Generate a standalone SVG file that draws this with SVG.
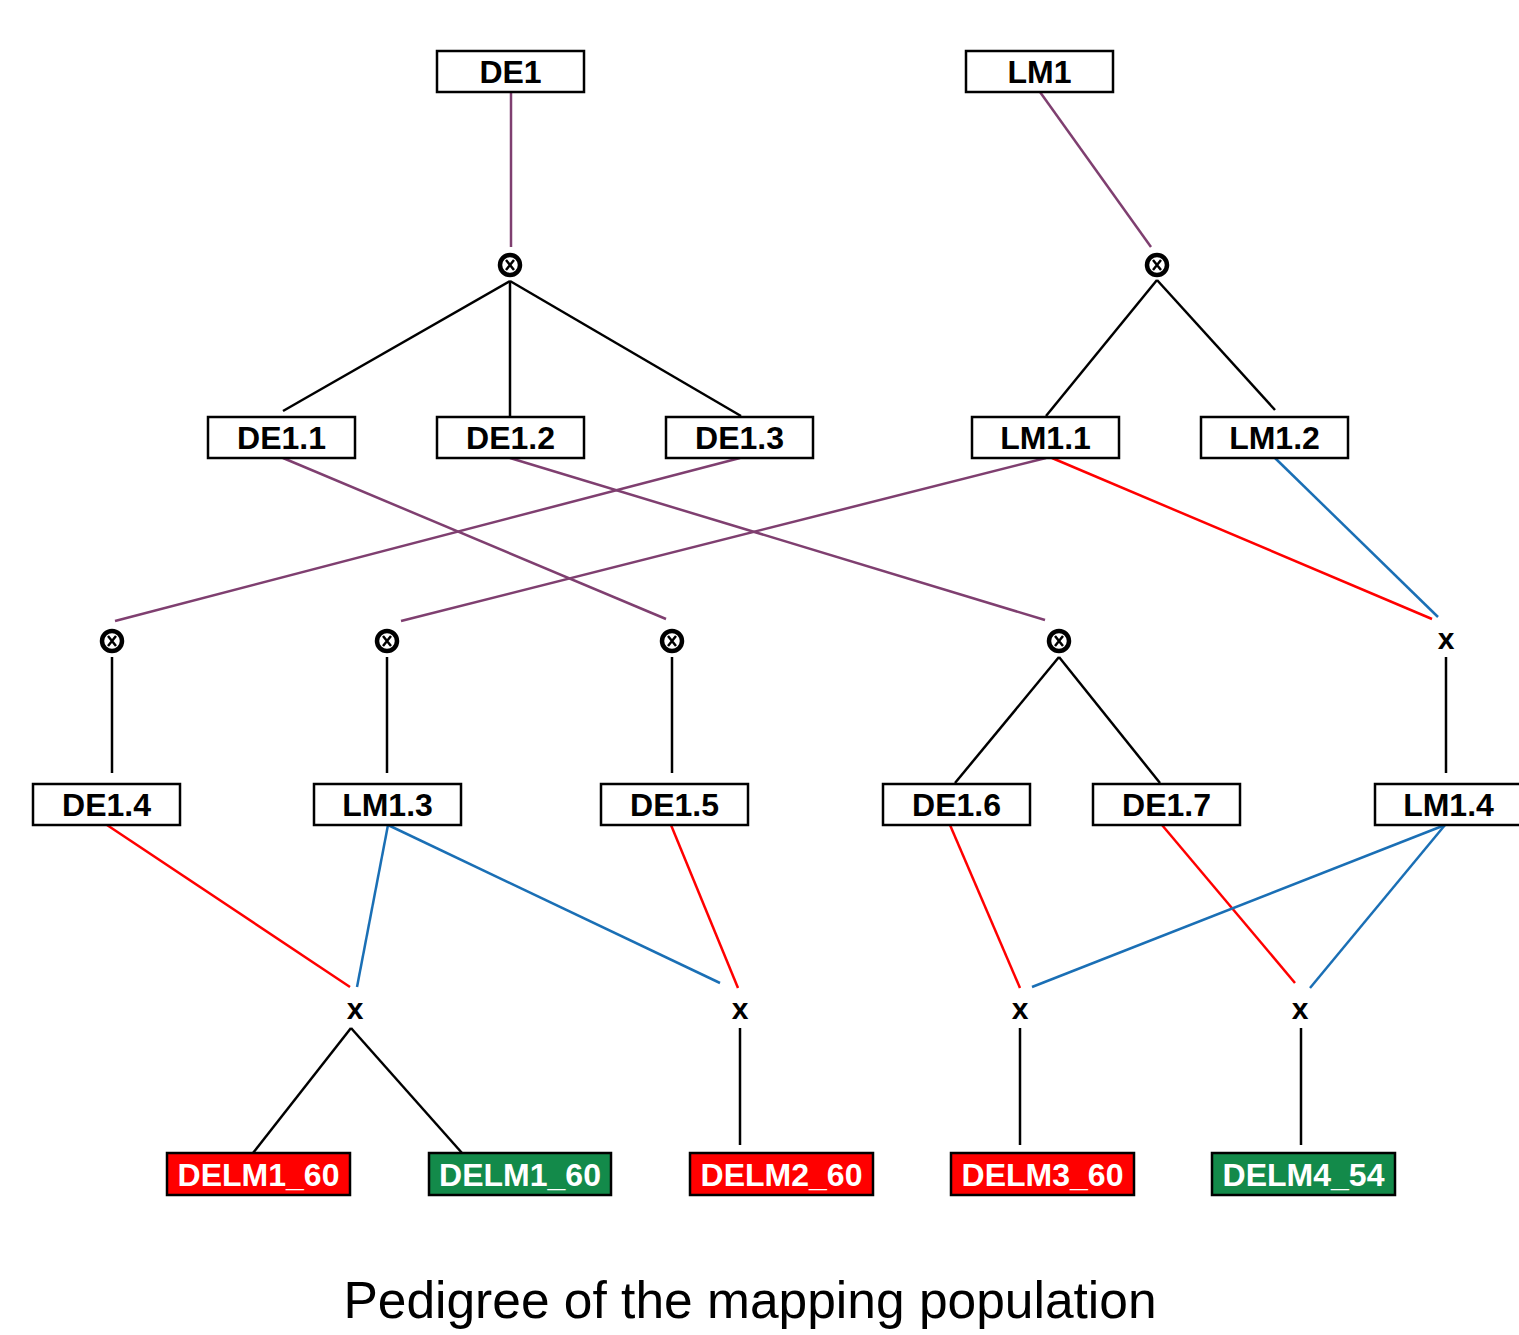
<svg xmlns="http://www.w3.org/2000/svg" width="1519" height="1335" viewBox="0 0 1519 1335">
<style>
.box{fill:#fff;stroke:#000;stroke-width:2.5}
.lbl{font-family:"Liberation Sans",Arial,sans-serif;font-weight:bold;font-size:32px;text-anchor:middle;fill:#000}
.wl{fill:#fff}
.red{fill:#ff0000;stroke:#000;stroke-width:2.5}
.grn{fill:#138a4a;stroke:#000;stroke-width:2.5}
.k{stroke:#000;stroke-width:2.5;fill:none}
.p{stroke:#7f3f70;stroke-width:2.5;fill:none}
.r{stroke:#ff0000;stroke-width:2.5;fill:none}
.b{stroke:#1a6fb5;stroke-width:2.5;fill:none}
.x{font-family:"Liberation Sans",Arial,sans-serif;font-weight:bold;font-size:30px;text-anchor:middle;fill:#000}
.title{font-family:"Liberation Sans",Arial,sans-serif;font-size:51.5px;text-anchor:middle;fill:#000}
</style>
<defs>
<g id="self">
<circle r="10" fill="#fff" stroke="#000" stroke-width="4.5"/>
<path d="M-4,-5 L4,5 M4,-5 L-4,5" stroke="#000" stroke-width="2.5"/>
</g>
</defs>
<g id="connectors">
<line class="p" x1="511" y1="92" x2="511" y2="247"/>
<line class="p" x1="1040" y1="92" x2="1151" y2="247"/>
<line class="k" x1="510" y1="281" x2="283" y2="411"/>
<line class="k" x1="510" y1="281" x2="510" y2="416"/>
<line class="k" x1="510" y1="281" x2="741" y2="416"/>
<line class="k" x1="1157" y1="280" x2="1046" y2="416"/>
<line class="k" x1="1157" y1="280" x2="1275" y2="410"/>
<line class="p" x1="740" y1="458" x2="115" y2="621"/>
<line class="p" x1="283" y1="458" x2="666" y2="619"/>
<line class="p" x1="1046" y1="458" x2="401" y2="621"/>
<line class="p" x1="510" y1="458" x2="1045" y2="620"/>
<line class="r" x1="1052" y1="458" x2="1432" y2="619"/>
<line class="b" x1="1275" y1="458" x2="1438" y2="617"/>
<line class="k" x1="112" y1="657" x2="112" y2="773"/>
<line class="k" x1="387" y1="657" x2="387" y2="773"/>
<line class="k" x1="672" y1="657" x2="672" y2="773"/>
<line class="k" x1="1059" y1="657" x2="955" y2="783"/>
<line class="k" x1="1059" y1="657" x2="1160" y2="783"/>
<line class="k" x1="1446" y1="657" x2="1446" y2="773"/>
<line class="r" x1="107" y1="825" x2="350" y2="987"/>
<line class="b" x1="388" y1="825" x2="357" y2="987"/>
<line class="b" x1="388" y1="825" x2="720" y2="983"/>
<line class="r" x1="671" y1="825" x2="738" y2="988"/>
<line class="r" x1="950" y1="825" x2="1020" y2="988"/>
<line class="r" x1="1162" y1="825" x2="1295" y2="983"/>
<line class="b" x1="1445" y1="825" x2="1032" y2="987"/>
<line class="b" x1="1445" y1="825" x2="1310" y2="988"/>
<line class="k" x1="351" y1="1028" x2="253" y2="1153"/>
<line class="k" x1="351" y1="1028" x2="462" y2="1153"/>
<line class="k" x1="740" y1="1028" x2="740" y2="1145"/>
<line class="k" x1="1020" y1="1028" x2="1020" y2="1145"/>
<line class="k" x1="1301" y1="1028" x2="1301" y2="1145"/>
</g>
<g id="n-DE1"><rect class="box" x="437" y="51" width="147" height="41"/><text class="lbl" x="510.5" y="83">DE1</text></g>
<g id="n-LM1"><rect class="box" x="966" y="51" width="147" height="41"/><text class="lbl" x="1039.5" y="83">LM1</text></g>
<g id="s1"><use href="#self" x="510" y="265"/></g>
<g id="s2"><use href="#self" x="1157" y="265"/></g>
<g id="n-DE1.1"><rect class="box" x="208" y="417" width="147" height="41"/><text class="lbl" x="281.5" y="449">DE1.1</text></g>
<g id="n-DE1.2"><rect class="box" x="437" y="417" width="147" height="41"/><text class="lbl" x="510.5" y="449">DE1.2</text></g>
<g id="n-DE1.3"><rect class="box" x="666" y="417" width="147" height="41"/><text class="lbl" x="739.5" y="449">DE1.3</text></g>
<g id="n-LM1.1"><rect class="box" x="972" y="417" width="147" height="41"/><text class="lbl" x="1045.5" y="449">LM1.1</text></g>
<g id="n-LM1.2"><rect class="box" x="1201" y="417" width="147" height="41"/><text class="lbl" x="1274.5" y="449">LM1.2</text></g>
<g id="s3"><use href="#self" x="112" y="641"/></g>
<g id="s4"><use href="#self" x="387" y="641"/></g>
<g id="s5"><use href="#self" x="672" y="641"/></g>
<g id="s6"><use href="#self" x="1059" y="641"/></g>
<g id="x1"><text class="x" x="1446" y="649">x</text></g>
<g id="n-DE1.4"><rect class="box" x="33" y="784" width="147" height="41"/><text class="lbl" x="106.5" y="816">DE1.4</text></g>
<g id="n-LM1.3"><rect class="box" x="314" y="784" width="147" height="41"/><text class="lbl" x="387.5" y="816">LM1.3</text></g>
<g id="n-DE1.5"><rect class="box" x="601" y="784" width="147" height="41"/><text class="lbl" x="674.5" y="816">DE1.5</text></g>
<g id="n-DE1.6"><rect class="box" x="883" y="784" width="147" height="41"/><text class="lbl" x="956.5" y="816">DE1.6</text></g>
<g id="n-DE1.7"><rect class="box" x="1093" y="784" width="147" height="41"/><text class="lbl" x="1166.5" y="816">DE1.7</text></g>
<g id="n-LM1.4"><rect class="box" x="1375" y="784" width="147" height="41"/><text class="lbl" x="1448.5" y="816">LM1.4</text></g>
<g id="x2"><text class="x" x="355" y="1019">x</text></g>
<g id="x3"><text class="x" x="740" y="1019">x</text></g>
<g id="x4"><text class="x" x="1020" y="1019">x</text></g>
<g id="x5"><text class="x" x="1300" y="1019">x</text></g>
<g id="n-DELM1_60a"><rect class="red" x="167" y="1153" width="183" height="42"/><text class="lbl wl" x="258.5" y="1186">DELM1_60</text></g>
<g id="n-DELM1_60b"><rect class="grn" x="429" y="1153" width="182" height="42"/><text class="lbl wl" x="520" y="1186">DELM1_60</text></g>
<g id="n-DELM2_60"><rect class="red" x="690" y="1153" width="183" height="42"/><text class="lbl wl" x="781.5" y="1186">DELM2_60</text></g>
<g id="n-DELM3_60"><rect class="red" x="951" y="1153" width="183" height="42"/><text class="lbl wl" x="1042.5" y="1186">DELM3_60</text></g>
<g id="n-DELM4_54"><rect class="grn" x="1212" y="1153" width="183" height="42"/><text class="lbl wl" x="1303.5" y="1186">DELM4_54</text></g>
<text class="title" x="750" y="1318">Pedigree of the mapping population</text>
</svg>
